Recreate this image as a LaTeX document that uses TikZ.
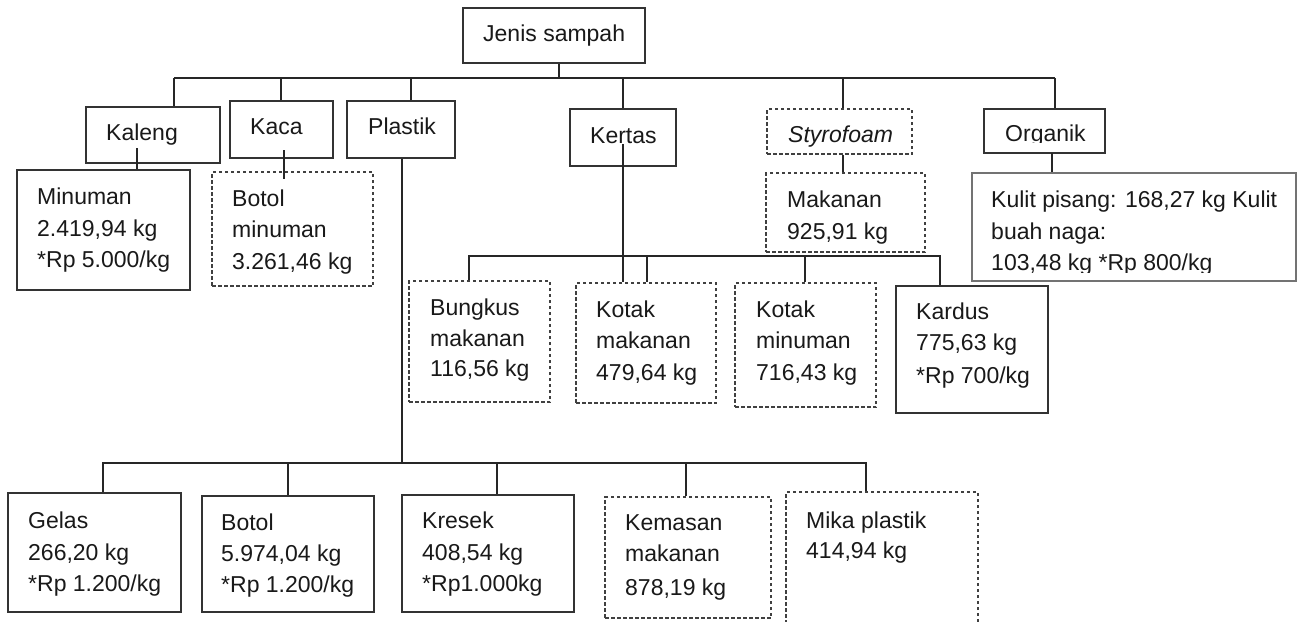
\documentclass[tikz,border=0pt]{standalone}
\usepackage{fontspec}
\setmainfont{Liberation Sans}
\usetikzlibrary{fit}
\tikzset{
  x=1pt, y=-1pt,
  sbox/.style={draw=black!80, line width=1.3pt, inner sep=0pt, fill=none},
  dbox/.style={draw=black!75, line width=1.2pt, dash pattern=on 3.5pt off 2.5pt, inner sep=0pt},
  gbox/.style={draw=black!55, line width=1.2pt, inner sep=0pt},
  conn/.style={draw=black!85, line width=1.6pt},
  lbl/.style={anchor=base west, inner sep=0pt, text=black!90, font=\fontsize{23}{31.5}\selectfont},
}
\begin{document}
\begin{tikzpicture}
\useasboundingbox[fill=white] (0,0) rectangle (1298,621);
% ---------- boxes ----------
\node[sbox, fit={(463,8) (645,63)}] (js) {};
\node[sbox, fit={(86,107) (220,163)}] (kaleng) {};
\node[sbox, fit={(230,101) (333,158)}] (kaca) {};
\node[sbox, fit={(347,101) (455,158)}] (plastik) {};
\node[sbox, fit={(570,109) (676,166)}] (kertas) {};
\node[dbox, fit={(767,109) (912,154)}] (styro) {};
\node[sbox, fit={(984,109) (1105,153)}] (organik) {};
\node[sbox, fit={(17,170) (190,290)}] (minuman) {};
\node[dbox, fit={(212,172) (373,286)}] (botolmin) {};
\node[dbox, fit={(766,173) (925,252)}] (makanan) {};
\node[gbox, fit={(972,173) (1296,281)}] (kulit) {};
\node[dbox, fit={(409,281) (550,402)}] (bungkus) {};
\node[dbox, fit={(576,283) (716,403)}] (kotakmak) {};
\node[dbox, fit={(735,283) (876,407)}] (kotakmin) {};
\node[sbox, fit={(896,286) (1048,413)}] (kardus) {};
\node[sbox, fit={(8,493) (181,612)}] (gelas) {};
\node[sbox, fit={(202,496) (374,612)}] (botol) {};
\node[sbox, fit={(402,495) (574,612)}] (kresek) {};
\node[dbox, fit={(605,497) (771,618)}] (kemasan) {};
\node[dbox, fit={(786,492) (978,640)}] (mika) {};
% ---------- connectors ----------
\coordinate (busL) at (174,78);
\coordinate (busR) at (1055,78);
\draw[conn] (busL) -- (busR);
\draw[conn] (js.south -| 559,0) -- (559,78);
\draw[conn] (busL) -- (busL |- kaleng.north);
\draw[conn] (kaca.north -| 281,0) -- (281,78);
\draw[conn] (plastik.north -| 411,0) -- (411,78);
\draw[conn] (kertas.north -| 623,0) -- (623,78);
\draw[conn] (styro.north -| 843,0) -- (843,78);
\draw[conn] (busR) -- (busR |- organik.north);
% sub links
\coordinate (kal1) at (137,148);
\draw[conn] (kal1) -- (kal1 |- minuman.north);
\coordinate (kac1) at (284,150);
\draw[conn] (kac1) -- (284,179);
\draw[conn] (styro.south -| 843,0) -- (makanan.north -| 843,0);
\coordinate (org1) at (1052,153);
\draw[conn] (org1) -- (org1 |- kulit.north);
% kertas
\coordinate (kbusL) at (469,256);
\coordinate (kbusR) at (940,256);
\draw[conn] (623,144) -- (kotakmak.north -| 623,0);
\draw[conn] (kbusL |- bungkus.north) -- (kbusL) -- (kbusR) -- (kbusR |- kardus.north);
\draw[conn] (647,256) -- (kotakmak.north -| 647,0);
\draw[conn] (805,256) -- (kotakmin.north -| 805,0);
% plastik
\coordinate (pbusL) at (103,463);
\coordinate (pbusR) at (866,463);
\draw[conn] (plastik.south -| 402,0) -- (402,463);
\draw[conn] (pbusL |- gelas.north) -- (pbusL) -- (pbusR) -- (pbusR |- mika.north);
\draw[conn] (288,463) -- (botol.north -| 288,0);
\draw[conn] (497,463) -- (kresek.north -| 497,0);
\draw[conn] (686,463) -- (kemasan.north -| 686,0);
% ---------- labels ----------
\node[lbl] (tjs) at (483,41) {Jenis sampah};
\node[lbl] (tkal) at (106,140) {Kaleng};
\node[lbl] (tkac) at (250,134) {Kaca};
\node[lbl] (tpla) at (368,134) {Plastik};
\node[lbl] (tker) at (590,143) {Kertas};
\node[lbl] (tsty) at (788,142) {\itshape Styrofoam};
\begin{scope}
\clip (990,110) rectangle (1100,142.5);
\node[lbl] (torg) at (1005,141) {Organik};
\end{scope}
\node[lbl] (tmin1) at (37,204) {Minuman};
\node[lbl] (tmin2) at (37,236) {2.419,94 kg};
\node[lbl] (tmin3) at (37,267) {*Rp 5.000/kg};
\node[lbl] (tbm1) at (232,206) {Botol};
\node[lbl] (tbm2) at (232,237) {minuman};
\node[lbl] (tbm3) at (232,269) {3.261,46 kg};
\node[lbl] (tmk1) at (787,207) {Makanan};
\node[lbl] (tmk2) at (787,239) {925,91 kg};
\node[lbl] (tku1) at (991,207) {Kulit pisang: 168,27 kg Kulit};
\node[lbl] (tku2) at (991,239) {buah naga:};
\begin{scope}
\clip (980,240) rectangle (1290,272);
\node[lbl] (tku3) at (991,270) {103,48 kg *Rp 800/kg};
\end{scope}
\node[lbl] (tbu1) at (430,315) {Bungkus};
\node[lbl] (tbu2) at (430,346) {makanan};
\node[lbl] (tbu3) at (430,376) {116,56 kg};
\node[lbl] (tkm1) at (596,317) {Kotak};
\node[lbl] (tkm2) at (596,348) {makanan};
\node[lbl] (tkm3) at (596,380) {479,64 kg};
\node[lbl] (tkn1) at (756,317) {Kotak};
\node[lbl] (tkn2) at (756,348) {minuman};
\node[lbl] (tkn3) at (756,380) {716,43 kg};
\node[lbl] (tka1) at (916,319) {Kardus};
\node[lbl] (tka2) at (916,350) {775,63 kg};
\node[lbl] (tka3) at (916,383) {*Rp 700/kg};
\node[lbl] (tge1) at (28,528) {Gelas};
\node[lbl] (tge2) at (28,560) {266,20 kg};
\node[lbl] (tge3) at (28,591) {*Rp 1.200/kg};
\node[lbl] (tbo1) at (221,530) {Botol};
\node[lbl] (tbo2) at (221,561) {5.974,04 kg};
\node[lbl] (tbo3) at (221,592) {*Rp 1.200/kg};
\node[lbl] (tkr1) at (422,528) {Kresek};
\node[lbl] (tkr2) at (422,560) {408,54 kg};
\node[lbl] (tkr3) at (422,591) {*Rp1.000kg};
\node[lbl] (tke1) at (625,530) {Kemasan};
\node[lbl] (tke2) at (625,561) {makanan};
\node[lbl] (tke3) at (625,595) {878,19 kg};
\node[lbl] (tmi1) at (806,528) {Mika plastik};
\node[lbl] (tmi2) at (806,558) {414,94 kg};
\end{tikzpicture}
\end{document}
